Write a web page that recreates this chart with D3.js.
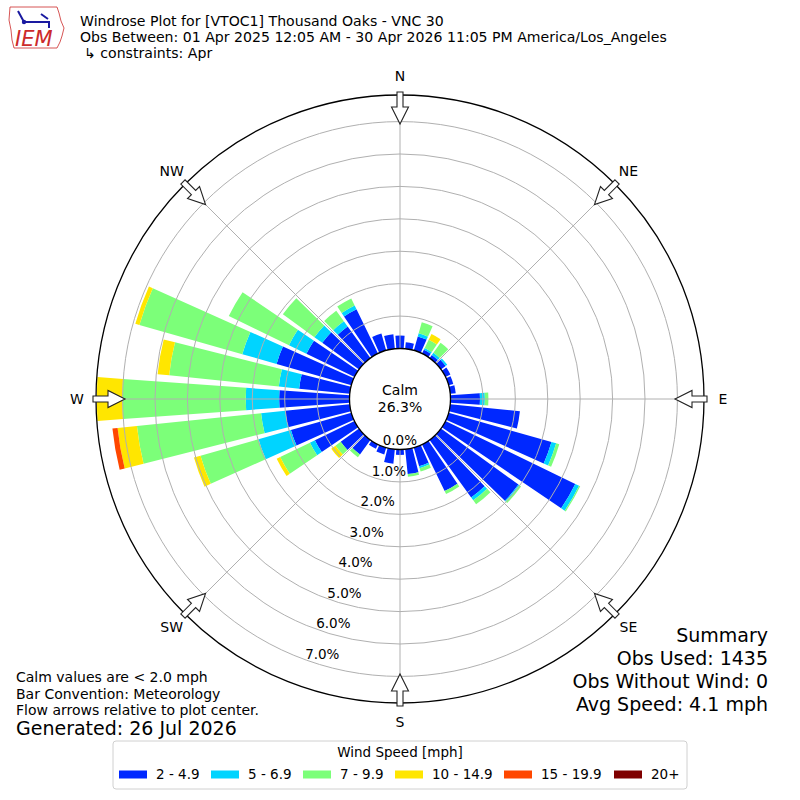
<!DOCTYPE html>
<html><head><meta charset="utf-8">
<script src="https://cdn.jsdelivr.net/npm/d3@7"></script>
<style>body{margin:0;background:#fff}svg{display:block}text{font-family:"DejaVu Sans",sans-serif}</style>
</head><body>
<svg id="chart" width="800" height="800"></svg>
<script>
// ---- data ----
const directions = [0,10,20,30,40,50,60,70,80,90,100,110,120,130,140,150,160,170,180,190,200,210,220,230,240,250,260,270,280,290,300,310,320,330,340,350];
const speedBins = ["2 - 4.9","5 - 6.9","7 - 9.9","10 - 14.9","15 - 19.9","20+"];
const binColors = ["#0028ff","#00d4ff","#7cff79","#ffe600","#ff4700","#7f0000"];
// percent of observations per direction for each speed bin
const s2to5   = [0.40,0.20,0.45,0.13,0.12,0.18,0.17,0.15,0.17,0.91,2.16,3.30,4.45,2.95,2.19,1.60,0.60,0.77,0.17,0.45,0.22,0.15,0.55,0.70,1.36,1.94,2.00,2.17,1.57,2.40,1.65,1.40,1.20,1.52,0.54,0.45];
const s5to7   = [0,0,0.10,0.06,0.08,0.06,0,0,0,0.15,0,0.15,0.13,0.03,0.11,0,0.06,0,0,0,0,0,0,0,0.17,1.04,0.75,1.03,0.63,1.10,0.60,0.30,0.20,0.13,0,0];
const s7to10  = [0,0,0.35,0.28,0.38,0,0,0,0,0.11,0,0.10,0.04,0.07,0.15,0.10,0.11,0.08,0,0,0,0,0.11,0.20,1.02,1.86,3.85,3.81,3.40,3.30,2.06,1.20,0.40,0.24,0,0];
const s10to15 = [0,0,0,0.20,0,0,0,0,0,0,0,0,0,0,0,0,0,0,0,0,0,0,0,0.16,0.12,0.21,0.60,0.79,0.36,0.13,0,0,0,0,0,0];
const s15to20 = [0,0,0,0,0,0,0,0,0,0,0,0,0,0,0,0,0,0,0,0,0,0,0,0,0,0,0.16,0,0,0,0,0,0,0,0,0];
const s20plus = [0,0,0,0,0,0,0,0,0,0,0,0,0,0,0,0,0,0,0,0,0,0,0,0,0,0,0,0,0,0,0,0,0,0,0,0];
const ringTicks = [0,1,2,3,4,5,6,7];
const compassLabels = ["N","NE","E","SE","S","SW","W","NW"];
const compassAngles = [0,45,90,135,180,225,270,315];
const calmPct = "26.3%";
const titleLines = ["Windrose Plot for [VTOC1] Thousand Oaks - VNC 30",
  "Obs Between: 01 Apr 2025 12:05 AM - 30 Apr 2026 11:05 PM America/Los_Angeles",
  "\u21b3 constraints: Apr"];
const noteLines = ["Calm values are < 2.0 mph","Bar Convention: Meteorology","Flow arrows relative to plot center."];
const generated = "Generated: 26 Jul 2026";
const summaryLines = ["Summary","Obs Used: 1435","Obs Without Wind: 0","Avg Speed: 4.1 mph"];
const legendTitle = "Wind Speed [mph]";

// ---- layout ----
const svg = d3.select("#chart");
const cx = 400, cy = 399;
const calmR = 50.5, outerR = 304, rMaxPct = 7.82;
const r = d3.scaleLinear().domain([0, rMaxPct]).range([calmR, outerR]);
const rad = d => d * Math.PI / 180;
const halfW = 4.15;

const g = svg.append("g").attr("transform", `translate(${cx},${cy})`);
const series = [s2to5, s5to7, s7to10, s10to15, s15to20, s20plus];
const arc = d3.arc();

// bars
directions.forEach((dir, i) => {
  let cum = 0;
  series.forEach((s, k) => {
    const v = s[i];
    if (v > 0) {
      g.append("path")
        .attr("d", arc({innerRadius: r(cum), outerRadius: r(cum + v),
          startAngle: rad(dir - halfW), endAngle: rad(dir + halfW)}))
        .attr("fill", binColors[k]);
    }
    cum += v;
  });
});

// grid rings
g.selectAll("circle.ring").data(ringTicks.slice(1)).join("circle")
  .attr("r", d => r(d)).attr("fill", "none").attr("stroke", "#b0b0b0").attr("stroke-width", 1);
// spokes
compassAngles.forEach(a => {
  g.append("line")
    .attr("x1", calmR * Math.sin(rad(a))).attr("y1", -calmR * Math.cos(rad(a)))
    .attr("x2", outerR * Math.sin(rad(a))).attr("y2", -outerR * Math.cos(rad(a)))
    .attr("stroke", "#b0b0b0").attr("stroke-width", 1);
});
// outer circle
g.append("circle").attr("r", outerR).attr("fill", "none").attr("stroke", "#000").attr("stroke-width", 1.3);
// calm circle
g.append("circle").attr("r", calmR).attr("fill", "#fff").attr("stroke", "#000").attr("stroke-width", 1.3);
g.append("text").attr("x", 0).attr("y", -4).attr("text-anchor", "middle").attr("font-size", 14).text("Calm");
g.append("text").attr("x", 0).attr("y", 13).attr("text-anchor", "middle").attr("font-size", 14).text(calmPct);

// ring labels along 200 deg
ringTicks.forEach(t => {
  const rr = r(t), a = rad(200);
  g.append("text").attr("x", rr * Math.sin(a)).attr("y", -rr * Math.cos(a) - 1)
    .attr("font-size", 13.5).attr("text-anchor", "start").text(t.toFixed(1) + "%");
});

// arrows (pointing inward)
const arrowPts = [[-3, -307], [3, -307], [3, -292], [8.5, -292], [0, -275], [-8.5, -292], [-3, -292]];
compassAngles.forEach((a, i) => {
  g.append("path").attr("d", d3.line()(arrowPts) + "Z")
    .attr("transform", `rotate(${a})`)
    .attr("fill", "#fff").attr("stroke", "#222").attr("stroke-width", 1.1);
  const lr = 323;
  g.append("text").attr("x", lr * Math.sin(rad(a))).attr("y", -lr * Math.cos(rad(a)))
    .attr("text-anchor", "middle").attr("dominant-baseline", "central")
    .attr("font-size", 14).text(compassLabels[i]);
});

// titles
titleLines.forEach((t, i) => {
  svg.append("text").attr("x", i === 2 ? 84 : 80).attr("y", 25.5 + i * 16.3)
    .attr("font-size", 14.1).text(t);
});
// logo
const logo = svg.append("g");
logo.append("path").attr("d", "M10,7 L57,7 L59,13 L61,21 L64,28 L62,36 L60,42 L57,48 L14,48 L12,40 L11,30 L9,20 Z")
  .attr("fill", "#fff").attr("stroke", "#cc2a2a").attr("stroke-width", 0.8);
logo.append("text").attr("x", 15).attr("y", 46).attr("font-family", "Liberation Serif, serif")
  .attr("font-style", "italic").attr("font-size", 21).attr("fill", "#cc2a2a").text("IEM");
logo.append("path").attr("d", "M24,22 L50,22 M18,11 L24,22 M41,14 L48,19 M49,22 L49,28")
  .attr("stroke", "#1a1aa0").attr("stroke-width", 2).attr("fill", "none");
logo.append("circle").attr("cx", 24).attr("cy", 22).attr("r", 2.2).attr("fill", "#1a1aa0");

// bottom-left notes
noteLines.forEach((t, i) => {
  svg.append("text").attr("x", 16).attr("y", 682 + i * 16.5).attr("font-size", 14).text(t);
});
svg.append("text").attr("x", 16).attr("y", 735).attr("font-size", 19).text(generated);

// summary
summaryLines.forEach((t, i) => {
  svg.append("text").attr("x", 768).attr("y", 641.5 + i * 23.3).attr("text-anchor", "end")
    .attr("font-size", 19).text(t);
});

// legend
const lg = svg.append("g");
lg.append("rect").attr("x", 113).attr("y", 741).attr("width", 574).attr("height", 48).attr("rx", 3)
  .attr("fill", "#fff").attr("stroke", "#d0d0d0");
lg.append("text").attr("x", 400).attr("y", 757).attr("text-anchor", "middle").attr("font-size", 13.5).text(legendTitle);
const swX = [119, 211, 303, 395, 504, 614];
speedBins.forEach((b, i) => {
  lg.append("rect").attr("x", swX[i]).attr("y", 770.5).attr("width", 28).attr("height", 8).attr("fill", binColors[i]);
  lg.append("text").attr("x", swX[i] + 37).attr("y", 779).attr("font-size", 13.5).text(b);
});
</script>
</body></html>
